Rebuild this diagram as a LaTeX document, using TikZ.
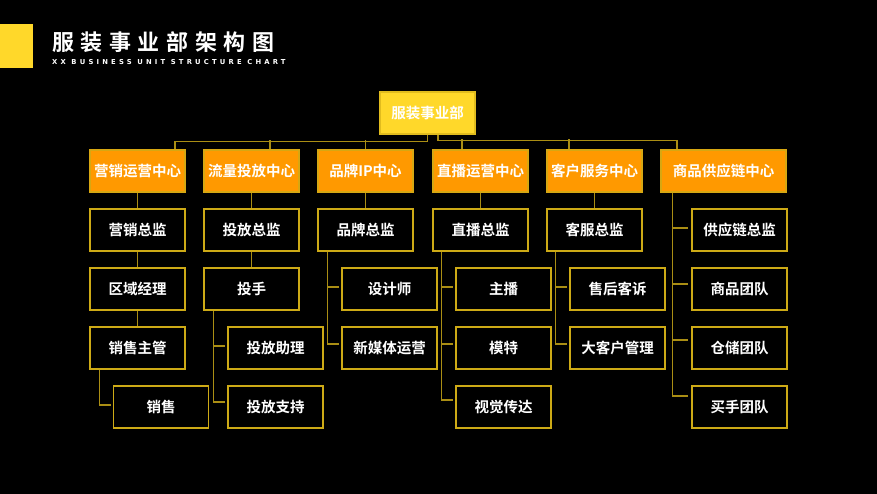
\documentclass[tikz,border=0pt]{standalone}
\usepackage{fontspec}
\newfontfamily\cjk{Noto Sans CJK SC}[BoldFont={Noto Sans CJK SC Bold}]
\newfontfamily\titlefont{Noto Sans CJK SC Bold}[LetterSpace=30]
\newfontfamily\subtitlefont{DejaVu Sans Bold}[LetterSpace=47]
\definecolor{goldline}{RGB}{170,142,20}
\definecolor{goldedge}{RGB}{205,170,22}
\definecolor{rootfill}{RGB}{255,216,42}
\definecolor{headfill}{RGB}{255,153,0}

\begin{document}
\begin{tikzpicture}[x=1pt, y=-1pt,
		staffbox/.style={draw=goldedge, line width=1.5pt, fill=black, minimum width=95pt, minimum height=42pt, inner sep=0pt, text=white, font=\cjk\bfseries\fontsize{14.5}{16}\selectfont},
		headbox/.style={staffbox, fill=headfill, draw=goldedge!80!headfill},
		rootbox/.style={staffbox, fill=rootfill, draw=goldedge!60!rootfill},
		link/.style={draw=goldline, line width=1.5pt}]
			%%%%% START %%%%%
			
			\fill[black] (0, 0) rectangle (877, 494);
			\useasboundingbox (0, 0) rectangle (877, 494);
			
			\fill[rootfill] (0, 24) rectangle (33, 68);
			\node[anchor=west, inner sep=0pt, text=white, font=\titlefont\fontsize{22}{24}\selectfont] (title) at (52, 42) {服装事业部架构图};
			\node[anchor=west, inner sep=0pt, text=white, font=\subtitlefont\fontsize{6.8}{8}\selectfont] (subtitle) at (52, 62) {XX BUSINESS UNIT STRUCTURE CHART};
			
			\node[rootbox] (root) at (427.5, 113) {服装事业部};
			
			\node[headbox] (mkt) at (137.5, 171) {营销运营中心};
			\node[headbox] (flow) at (251.5, 171) {流量投放中心};
			\node[headbox] (brand) at (365.5, 171) {品牌IP中心};
			\node[headbox] (live) at (480.5, 171) {直播运营中心};
			\node[headbox] (cust) at (594.5, 171) {客户服务中心};
			\node[headbox, minimum width=125pt] (supply) at (723.5, 171) {商品供应链中心};
			
			\node[staffbox] (mkt1) at (137.5, 230) {营销总监};
			\node[staffbox] (mkt2) at (137.5, 289) {区域经理};
			\node[staffbox] (mkt3) at (137.5, 348) {销售主管};
			\node[staffbox] (mkt4) at (161, 407) {销售};
			
			\node[staffbox] (flow1) at (251.5, 230) {投放总监};
			\node[staffbox] (flow2) at (251.5, 289) {投手};
			\node[staffbox] (flow3) at (275.5, 348) {投放助理};
			\node[staffbox] (flow4) at (275.5, 407) {投放支持};
			
			\node[staffbox] (brand1) at (365.5, 230) {品牌总监};
			\node[staffbox] (brand2) at (389.5, 289) {设计师};
			\node[staffbox] (brand3) at (389.5, 348) {新媒体运营};
			
			\node[staffbox] (live1) at (480.5, 230) {直播总监};
			\node[staffbox] (live2) at (503.5, 289) {主播};
			\node[staffbox] (live3) at (503.5, 348) {模特};
			\node[staffbox] (live4) at (503.5, 407) {视觉传达};
			
			\node[staffbox] (cust1) at (594.5, 230) {客服总监};
			\node[staffbox] (cust2) at (617.5, 289) {售后客诉};
			\node[staffbox] (cust3) at (617.5, 348) {大客户管理};
			
			\node[staffbox] (supply1) at (739.5, 230) {供应链总监};
			\node[staffbox] (supply2) at (739.5, 289) {商品团队};
			\node[staffbox] (supply3) at (739.5, 348) {仓储团队};
			\node[staffbox] (supply4) at (739.5, 407) {买手团队};
			
			% root to centres
			\draw[link] (root.south) -- ++(0, 7) -| ([xshift=37.5]mkt.north);
			\draw[link] ([xshift=18.5]flow.north) -- ++(0, -9);
			\draw[link] (brand.north) -- ++(0, -9);
			\draw[link] ([xshift=10.5]root.south) -- ++(0, 6) -| ([xshift=-46.5]supply.north);
			\draw[link] ([xshift=-18.5]live.north) -- ++(0, -10);
			\draw[link] ([xshift=-25.5]cust.north) -- ++(0, -10);
			
			% marketing
			\draw[link] (mkt.south) -- (mkt1.north);
			\draw[link] (mkt1.south) -- (mkt2.north);
			\draw[link] (mkt2.south) -- (mkt3.north);
			\draw[link] ([xshift=10]mkt3.south west) |- ([xshift=-2, yshift=2]mkt4.west);
			
			% traffic
			\draw[link] (flow.south) -- (flow1.north);
			\draw[link] (flow1.south) -- (flow2.north);
			\draw[link] ([xshift=10]flow2.south west) |- ([xshift=-2, yshift=2]flow3.west);
			\draw[link] ([xshift=10]flow2.south west) |- ([xshift=-2, yshift=5]flow4.west);
			
			% brand
			\draw[link] (brand.south) -- (brand1.north);
			\draw[link] ([xshift=10]brand1.south west) |- ([xshift=-2, yshift=2]brand2.west);
			\draw[link] ([xshift=10]brand1.south west) |- ([xshift=-2, yshift=4]brand3.west);
			
			% live
			\draw[link] (live.south) -- (live1.north);
			\draw[link] ([xshift=9]live1.south west) |- ([xshift=-2, yshift=2]live2.west);
			\draw[link] ([xshift=9]live1.south west) |- ([xshift=-2, yshift=4]live3.west);
			\draw[link] ([xshift=9]live1.south west) |- ([xshift=-2, yshift=7]live4.west);
			
			% customers
			\draw[link] (cust.south) -- (cust1.north);
			\draw[link] ([xshift=9]cust1.south west) |- ([xshift=-2, yshift=2]cust2.west);
			\draw[link] ([xshift=9]cust1.south west) |- ([xshift=-2, yshift=4]cust3.west);
			
			% supply chain
			\draw[link] ([xshift=12]supply.south west) |- ([xshift=-3, yshift=2]supply1.west);
			\draw[link] ([xshift=12]supply.south west) |- ([xshift=-3, yshift=5]supply2.west);
			\draw[link] ([xshift=12]supply.south west) |- ([xshift=-3, yshift=8]supply3.west);
			\draw[link] ([xshift=12]supply.south west) |- ([xshift=-3, yshift=11]supply4.west);
			
			%%%%% END %%%%%
		\end{tikzpicture}
\end{document}
